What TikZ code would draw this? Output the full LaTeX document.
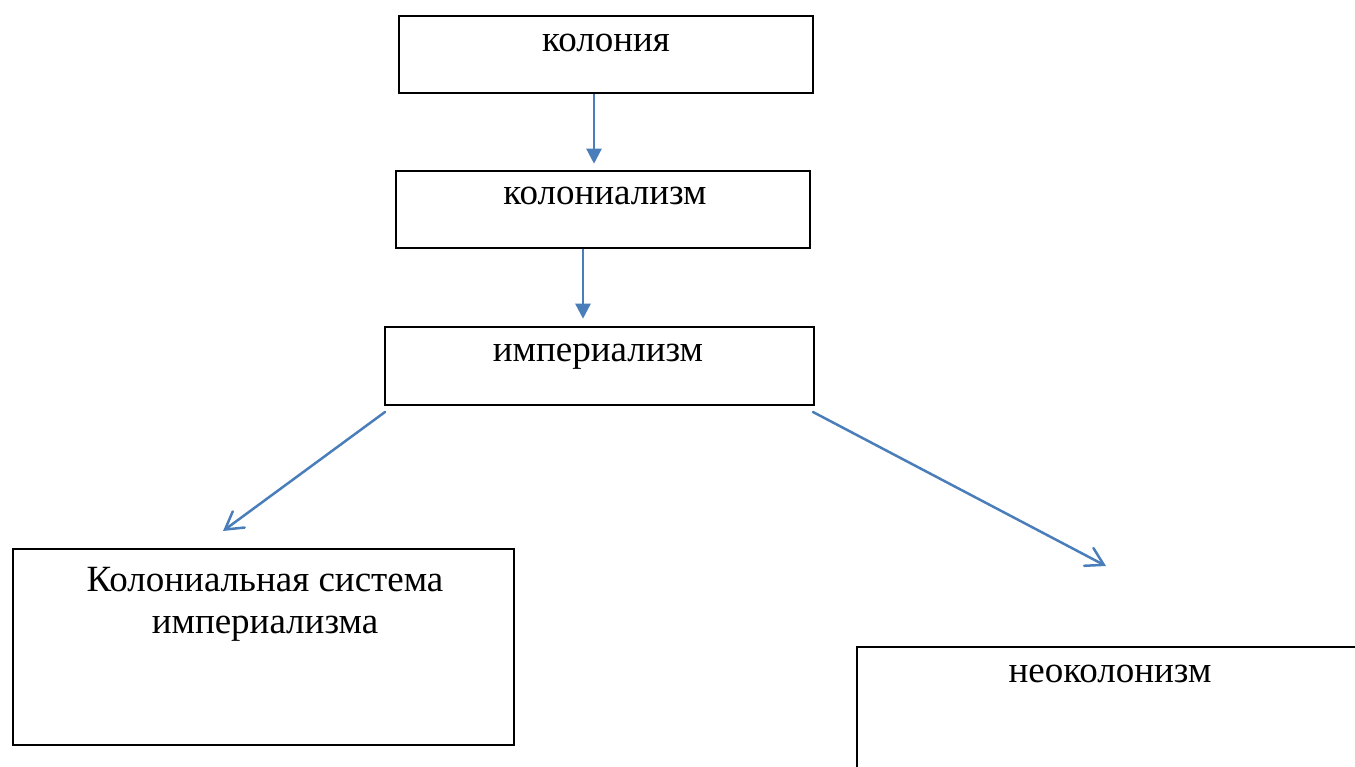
\documentclass[tikz,border=0pt]{standalone}
\usepackage{fontspec}
\setmainfont{Liberation Serif}
\usetikzlibrary{arrows.meta}
\definecolor{arrblue}{RGB}{74,126,187}
\tikzset{
  box/.style={draw=black, line width=2.6pt, fill=none, inner sep=0pt},
  lbl/.style={anchor=base, inner sep=0pt, font=\fontsize{37}{42}\selectfont, align=center},
  arrv/.style={draw=arrblue, line width=2.5pt, -{Triangle[length=15pt,width=15pt]}},
  arrd/.style={draw=arrblue, line width=2.5pt, line cap=round, -{Straight Barb[length=17pt,width=20pt,line cap=round]}}
}
\begin{document}
\begin{tikzpicture}[x=1pt,y=-1pt]
\useasboundingbox (0,0) rectangle (1355,767);
\clip (0,0) rectangle (1355,767);
% boxes
\node[box, minimum width=414pt, minimum height=77pt] (b1) at (606,54.5) {};
\node[box, minimum width=414pt, minimum height=77pt] (b2) at (603,209.5) {};
\node[box, minimum width=429pt, minimum height=78pt] (b3) at (599.5,366) {};
\node[box, minimum width=501pt, minimum height=196pt] (b4) at (263.5,647) {};
\node[box, minimum width=508pt, minimum height=143pt] (b5) at (1111,718.5) {};
% labels
\node[lbl] (t1) at (606,52) {колония};
\node[lbl] (t2) at (605,205) {колониализм};
\node[lbl] (t3) at (598,361) {империализм};
\node[lbl] (t4) at (265,633) {Колониальная система\\империализма};
\node[lbl] (t5) at (1110,682) {неоколонизм};
% connector ends
\coordinate (x1) at (594,0);
\coordinate (x2) at (583,0);
\coordinate (s3) at (385,412);
\coordinate (e3) at (223,531);
\coordinate (s4) at (813,412);
\coordinate (e4) at (1106,566);
% connectors
\draw[arrv, shorten >=6pt] (b1.south -| x1) -- (b2.north -| x1);
\draw[arrv, shorten >=7pt] (b2.south -| x2) -- (b3.north -| x2);
\draw[arrd] (s3) -- (e3);
\draw[arrd] (s4) -- (e4);
\end{tikzpicture}
\end{document}
